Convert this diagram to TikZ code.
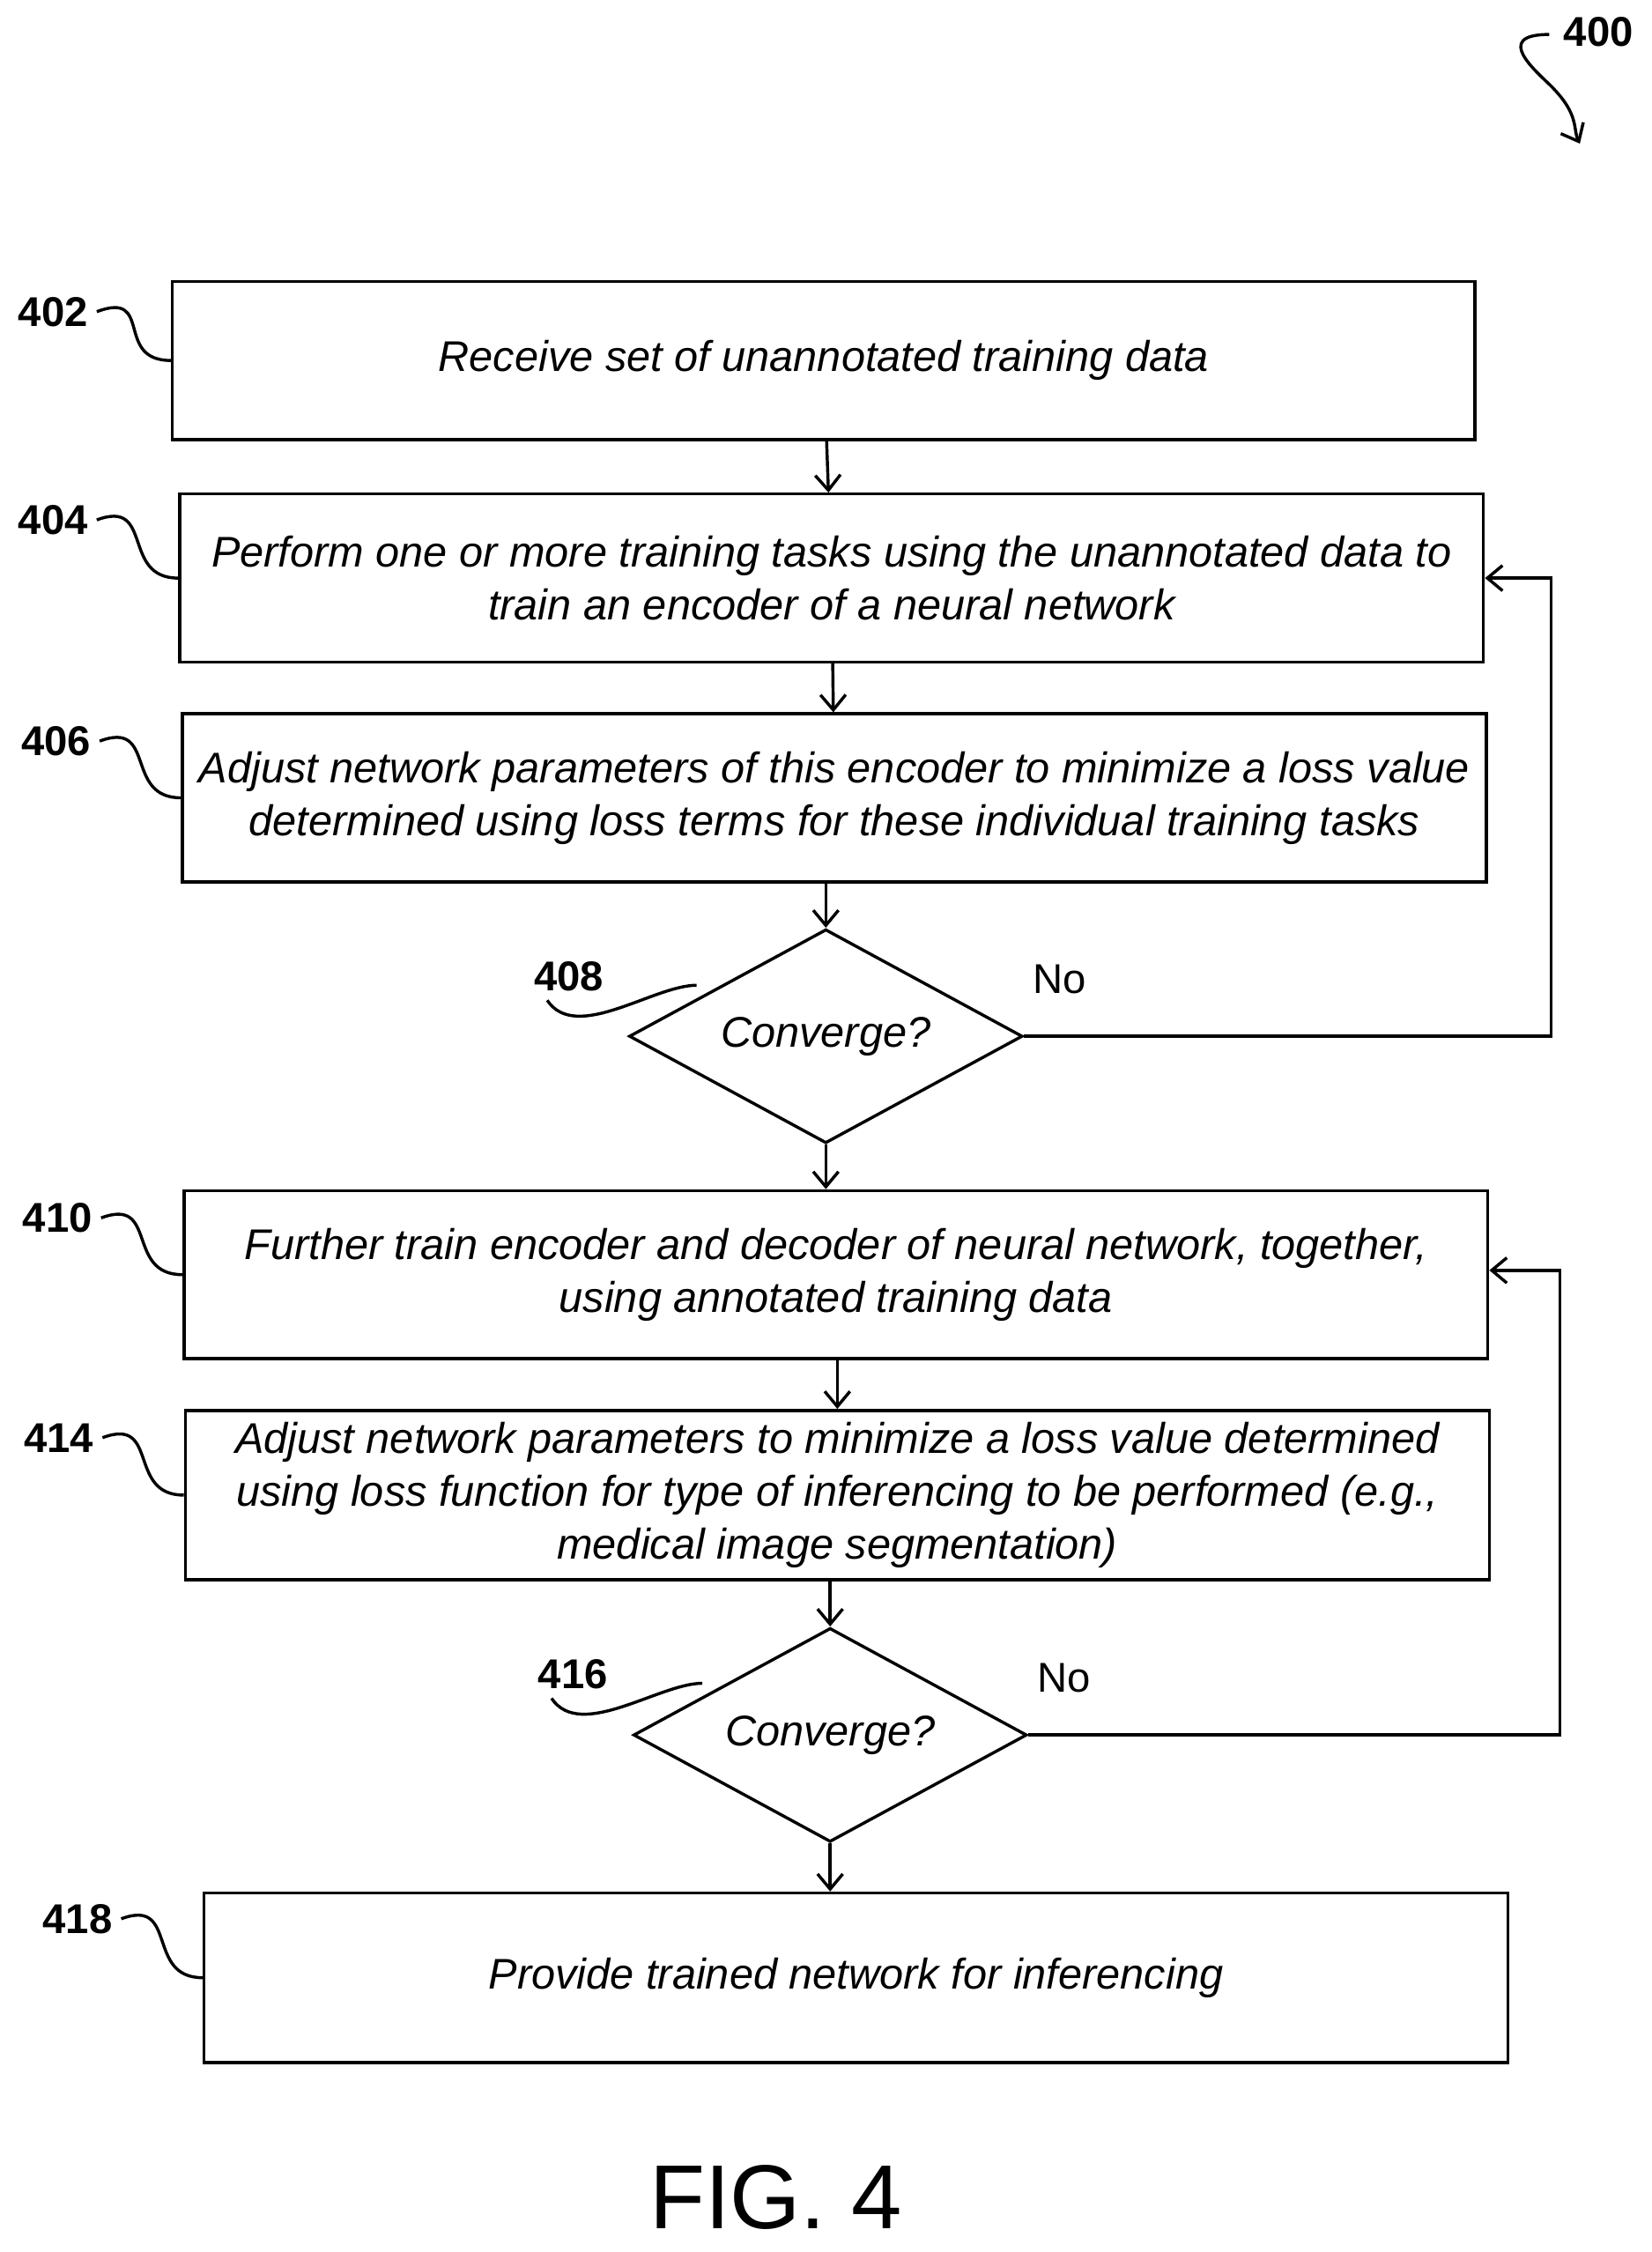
\documentclass[tikz,border=0pt]{standalone}
\usepackage{fontspec}
\setmainfont{Liberation Sans}
\usetikzlibrary{positioning,calc,shapes.geometric,arrows.meta}

\begin{document}
\begin{tikzpicture}[x=0.02cm,y=-0.02cm,
		every node/.style={font=\fontsize{16.5}{21}\selectfont},
		box/.style={draw,line width=1.2pt,rectangle,minimum height=2.3cm,align=center,font=\fontsize{17}{21}\selectfont\itshape},
		test/.style={draw,line width=1.2pt,diamond,aspect=1.84,minimum width=5.48cm,minimum height=2.98cm,inner sep=0pt,font=\fontsize{17}{21}\selectfont\itshape},
		num/.style={font=\fontsize{16.5}{21}\selectfont\bfseries},
		flow/.style={line width=1.2pt,-{Straight Barb[length=6pt,width=10pt]}},
		lead/.style={line width=1.2pt}]
	\useasboundingbox (0,0) rectangle (1150,1568);
	% boxes
	\node[box,minimum width=18.14cm,minimum height=2.2cm] (A) at (573.5,251) {Receive set of unannotated training data};
	\node[box,minimum width=18.16cm,minimum height=2.34cm] (B) at (579,402.5) {Perform one or more training tasks using the unannotated data to\\train an encoder of a neural network};
	\node[box,minimum width=18.16cm,minimum height=2.34cm] (C) at (581,555.5) {Adjust network parameters of this encoder to minimize a loss value\\determined using loss terms for these individual training tasks};
	\node[test] (D) at (575,721.5) {Converge?};
	\node[box,minimum width=18.16cm,minimum height=2.34cm] (E) at (582,887.5) {Further train encoder and decoder of neural network, together,\\using annotated training data};
	\node[box,minimum width=18.16cm,minimum height=2.36cm] (F) at (583,1041) {Adjust network parameters to minimize a loss value determined\\using loss function for type of inferencing to be performed (e.g.,\\medical image segmentation)};
	\node[test] (G) at (578,1208) {Converge?};
	\node[box,minimum width=18.16cm,minimum height=2.36cm] (H) at (596,1377) {Provide trained network for inferencing};
	% numbers
	\node[num] (n400) at (1113,22) {400};
	\node[num] (n402) at (37,217) {402};
	\node[num] (n404) at (37,362) {404};
	\node[num] (n406) at (39,516) {406};
	\node[num] (n408) at (396,680) {408};
	\node[num] (n410) at (40,848) {410};
	\node[num] (n414) at (41,1001) {414};
	\node[num] (n416) at (399,1166) {416};
	\node[num] (n418) at (54,1336) {418};
	\node (no1) at (738,682) {No};
	\node (no2) at (741,1168) {No};
	\node[font=\fontsize{36}{40}\selectfont] (fig) at (540,1530) {FIG. 4};
	% flow
	\draw[flow] (A) -- (B);
	\draw[flow] (B) -- (C);
	\draw[flow] (C.south -| D.north) -- (D.north);
	\draw[flow] (D.south) -- (D.south |- E.north);
	\draw[flow] (E.south -| F.north) -- (F.north);
	\draw[flow] (F.south -| G.north) -- (G.north);
	\draw[flow] (G.south) -- (G.south |- H.north);
	\coordinate (r1) at (1080,0);
	\coordinate (r2) at (1086,0);
	\draw[flow] (D.east) -- (D.east -| r1) |- (B.east);
	\draw[flow] (G.east) -- (G.east -| r2) |- ($(E.east)+(0,-3)$);
	% leaders
	\draw[lead] (n402.east) .. controls +(40,-15) and +(-40,0) .. (A.west);
	\draw[lead] (n404.east) .. controls +(40,-15) and +(-40,0) .. (B.west);
	\draw[lead] (n406.east) .. controls +(40,-15) and +(-40,0) .. (C.west);
	\draw[lead] (n410.east) .. controls +(40,-15) and +(-40,0) .. (E.west);
	\draw[lead] (n414.east) .. controls +(40,-15) and +(-40,0) .. (F.west);
	\draw[lead] (n418.east) .. controls +(40,-15) and +(-40,0) .. (H.west);
	\draw[lead] ($(n408.south)+(-15,0)$) .. controls +(20,30) and +(-30,0) .. (485,686);
	\draw[lead] ($(n416.south)+(-15,0)$) .. controls +(20,30) and +(-30,0) .. (489,1172);
	\draw[flow] ($(n400.west)+(-4,2)$) .. controls +(-40,0) and +(-10,-10) .. (1080,60) .. controls +(20,20) and +(-5,-10) .. (1100,100);
\end{tikzpicture}
\end{document}
